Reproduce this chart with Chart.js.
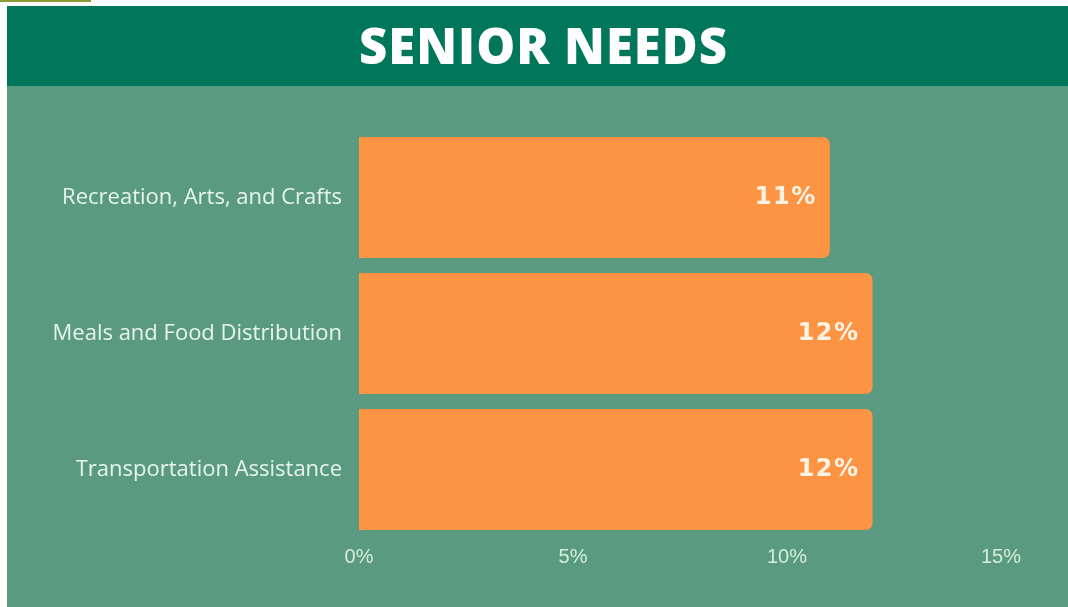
<!DOCTYPE html>
<html>
<head>
<meta charset="utf-8">
<title>Senior Needs</title>
<script src="https://cdn.jsdelivr.net/npm/chart.js@4"></script>
<style>
  html, body { margin: 0; padding: 0; background: #ffffff; }
  body { width: 1068px; height: 607px; position: relative; overflow: hidden; }
  .accent { position: absolute; left: 0; top: 0; width: 91px; height: 2px; background: #8c9a34; }
  .panel { position: absolute; left: 7px; top: 6px; width: 1061px; height: 601px; background: #5a9a80; }
  .header {
    height: 80px; background: #00775a; color: #ffffff;
    font-family: "Open Sans", sans-serif; font-weight: 800; font-size: 49px; letter-spacing: 1px;
    line-height: 78px; text-align: center; padding-left: 12px; box-sizing: border-box;
  }
  .chart-wrap { position: absolute; left: 0; top: 80px; width: 1061px; height: 521px; }
</style>
</head>
<body>
<div class="accent"></div>
<div class="panel">
  <div class="header">SENIOR NEEDS</div>
  <div class="chart-wrap"><canvas id="needsChart"></canvas></div>
</div>

<script>
// Share of seniors naming each need
const categories = ["Recreation, Arts, and Crafts", "Meals and Food Distribution", "Transportation Assistance"];
const shares = [11, 12, 12];
const tickValues = [0, 5, 10, 15];

// Writes the percentage inside the right end of each bar
const valueLabels = {
  id: "valueLabels",
  afterDatasetsDraw(chart) {
    const ctx = chart.ctx;
    const meta = chart.getDatasetMeta(0);
    ctx.save();
    ctx.font = "bold 24px 'DejaVu Sans', sans-serif";
    ctx.letterSpacing = "1.5px";
    ctx.fillStyle = "#fdf3e4";
    ctx.textAlign = "right";
    ctx.textBaseline = "middle";
    meta.data.forEach((bar, i) => {
      ctx.fillText(shares[i] + "%", bar.x - 13, bar.y);
    });
    ctx.restore();
  }
};

document.addEventListener("DOMContentLoaded", function() {
  const ctx = document.getElementById("needsChart").getContext("2d");
  new Chart(ctx, {
    type: "bar",
    data: {
      labels: categories,
      datasets: [{
        data: shares,
        backgroundColor: "#fd9443",
        borderRadius: 7,
        barPercentage: 0.89,
        categoryPercentage: 1
      }]
    },
    options: {
      indexAxis: "y",
      responsive: true,
      maintainAspectRatio: false,
      animation: false,
      layout: { padding: { top: 43.5, right: 67, bottom: 29.5, left: 0 } },
      plugins: {
        legend: { display: false },
        tooltip: { enabled: false }
      },
      scales: {
        x: {
          min: 0,
          max: 15,
          afterBuildTicks(scale) {
            scale.ticks = tickValues.map(v => ({ value: v }));
          },
          afterFit(scale) { scale.height = 40; },
          grid: { display: false },
          border: { display: false },
          ticks: {
            padding: 0,
            color: "#d3efdc",
            font: { family: "'Liberation Sans', sans-serif", size: 20 },
            callback: v => v + "%"
          }
        },
        y: {
          afterFit(scale) { scale.width = 352; },
          grid: { display: false },
          border: { display: false },
          ticks: {
            padding: 9,
            color: "#e8f5ec",
            font: { family: "'Open Sans', sans-serif", size: 22 }
          }
        }
      }
    },
    plugins: [valueLabels]
  });
});
</script>
</body>
</html>
